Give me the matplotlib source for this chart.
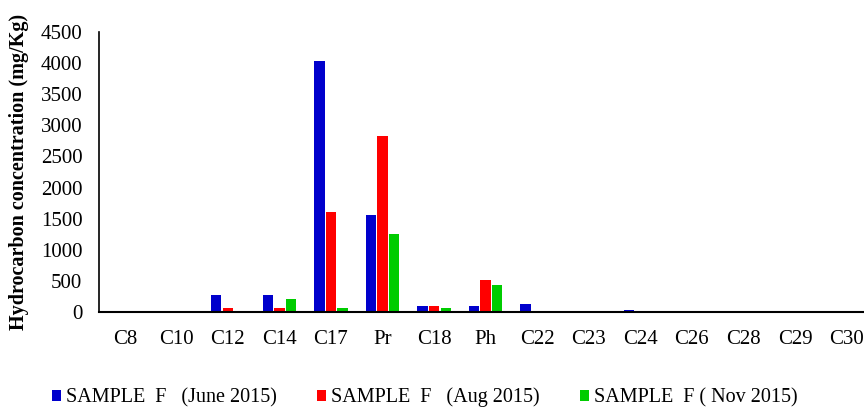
import numpy as np
import matplotlib.pyplot as plt

categories = ['C8', 'C10', 'C12', 'C14', 'C17', 'Pr', 'C18', 'Ph',
              'C22', 'C23', 'C24', 'C26', 'C28', 'C29', 'C30']
june = [0, 0, 270, 275, 4040, 1560, 90, 105, 125, 25, 35, 0, 0, 0, 0]
aug = [0, 0, 70, 70, 1600, 2830, 90, 520, 0, 0, 0, 0, 0, 0, 0]
nov = [0, 0, 0, 210, 70, 1260, 60, 440, 0, 0, 0, 0, 0, 0, 0]
series_labels = ['SAMPLE  F   (June 2015)', 'SAMPLE  F   (Aug 2015)', 'SAMPLE  F ( Nov 2015)']
colors = ['#0000CC', '#FF0000', '#00CC00']

plt.rcParams['font.family'] = ['Liberation Serif', 'DejaVu Serif']

fig = plt.figure(figsize=(8.64, 4.09), dpi=100)
ax = fig.add_axes([0.1146, 0.237, 0.895, 0.685])

x = np.arange(len(categories))
w = 0.2
off = 0.225
for i, (vals, c, lab) in enumerate(zip([june, aug, nov], colors, series_labels)):
    ax.bar(x + (i - 1) * off, vals, width=w, color=c, label=lab)

ax.set_xlim(-0.5, len(categories) - 0.5)
ax.set_ylim(0, 4500)
ax.set_yticks(np.arange(0, 4501, 500))
ax.set_xticks(x)
ax.set_xticklabels(categories)
ax.tick_params(axis='both', length=0, labelsize=15)
ax.tick_params(axis='x', pad=13)
ax.tick_params(axis='y', pad=12)
for s in ['top', 'right']:
    ax.spines[s].set_visible(False)
ax.spines['left'].set_linewidth(1.2)
ax.spines['bottom'].set_linewidth(1.5)

ax.set_ylabel('Hydrocarbon concentration (mg/Kg)', fontsize=14.5, fontweight='bold', labelpad=8)

fig.legend(loc='center', bbox_to_anchor=(0.492, 0.028), ncol=3, frameon=False,
           fontsize=14.5, handlelength=0.45, handleheight=0.5, handletextpad=0.25,
           columnspacing=2.0)

fig.savefig('out.png', dpi=100)
